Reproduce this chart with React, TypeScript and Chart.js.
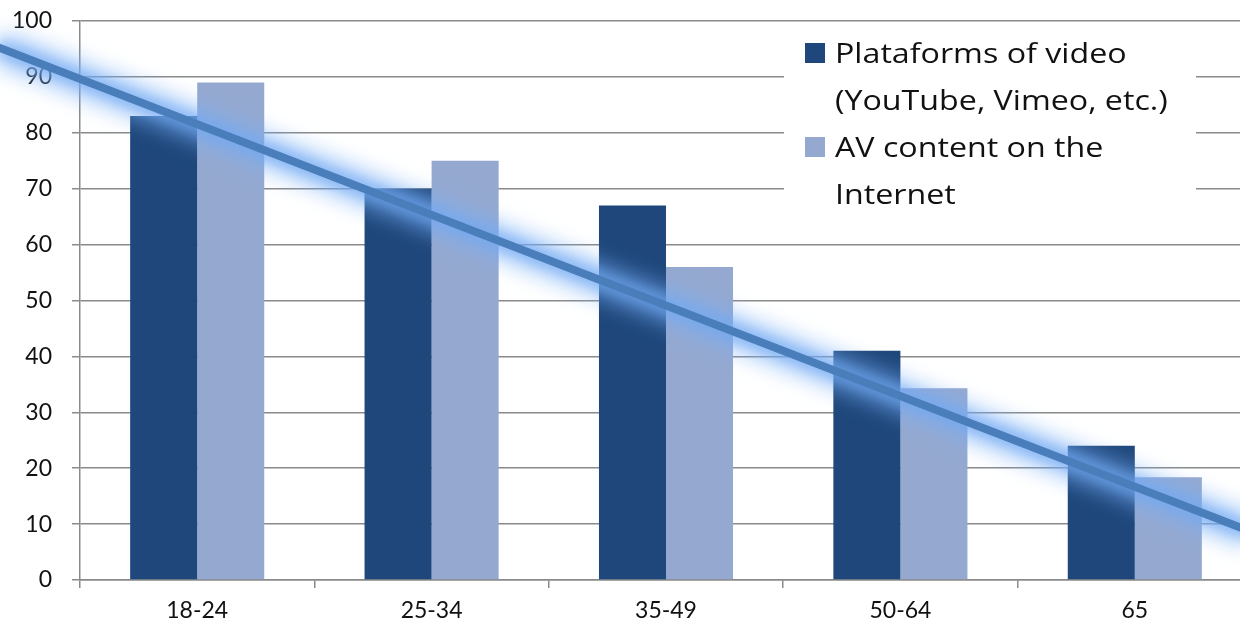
import React, { useEffect, useRef } from "react";
import { Chart, registerables } from "chart.js";

Chart.register(...registerables);

const categories = ["18-24", "25-34", "35-49", "50-64", "65"];
const platformLabel = "Plataforms of video (YouTube, Vimeo, etc.)";
const avLabel = "AV content on the Internet";
const platformValues = [83, 70, 67, 41, 24];
const avValues = [89, 75, 56, 34.3, 18.4];
const legendLines = [
  ["Plataforms of video", "(YouTube, Vimeo, etc.)"],
  ["AV content on the", "Internet"],
];
// linear trend line (category index, value)
const trendX = [-0.85, 4.5];
const trendY = [95.3, 8.6];
const yMin = 0;
const yMax = 100;
const yStep = 10;

const FONT = "Lato, 'Open Sans', sans-serif";
const LEGEND_FONT = "'Open Sans', Lato, sans-serif";
const GRID = "#8a8a8a";

const trendPlugin = {
  id: "trend",
  afterDatasetsDraw(chart: any) {
    const ctx = chart.ctx;
    const xs = chart.scales.x;
    const ys = chart.scales.y;
    const pts = trendX.map((v, i) => [xs.getPixelForValue(v), ys.getPixelForValue(trendY[i])]);
    const path = (dy: number) => {
      ctx.beginPath();
      pts.forEach(([px, py]: number[], i: number) => {
        if (i === 0) ctx.moveTo(px, py + dy);
        else ctx.lineTo(px, py + dy);
      });
    };
    ctx.save();
    ctx.lineCap = "butt";
    // soft glow: draw only the blurred shadow of a wide stroke
    const OFF = 5000;
    ctx.shadowOffsetX = 0;
    ctx.shadowOffsetY = OFF;
    ctx.strokeStyle = "#000";
    ctx.shadowColor = "rgba(120,175,245,0.75)";
    ctx.shadowBlur = 22;
    ctx.lineWidth = 30;
    path(-OFF);
    ctx.stroke();
    ctx.shadowColor = "rgba(110,165,240,0.4)";
    ctx.shadowBlur = 10;
    ctx.lineWidth = 18;
    path(-OFF);
    ctx.stroke();
    ctx.shadowColor = "transparent";
    ctx.shadowBlur = 0;
    ctx.shadowOffsetY = 0;
    ctx.strokeStyle = "#4a7ebb";
    ctx.lineWidth = 8;
    path(0);
    ctx.stroke();
    ctx.restore();
  },
};

const legendPlugin = {
  id: "boxLegend",
  beforeDatasetsDraw(chart: any) {
    const ctx = chart.ctx;
    const area = chart.chartArea;
    ctx.save();
    ctx.fillStyle = "#ffffff";
    ctx.fillRect(784, area.top + 3, 412, 192);
    ctx.textBaseline = "alphabetic";
    ctx.textAlign = "left";
    let baseline = 63;
    legendLines.forEach((lines, i) => {
      const ds = chart.data.datasets[i];
      ctx.fillStyle = ds.backgroundColor;
      ctx.fillRect(805, baseline - 20, 20, 20);
      ctx.fillStyle = "#111111";
      lines.forEach((line) => {
        ctx.save();
        ctx.translate(835, baseline);
        ctx.scale(1.15, 1);
        ctx.font = `28px ${LEGEND_FONT}`;
        ctx.fillText(line, 0, 0);
        ctx.restore();
        baseline += 47;
      });
    });
    ctx.restore();
  },
};

export default function App() {
  const ref = useRef<HTMLCanvasElement | null>(null);
  useEffect(() => {
    if (!ref.current) return;
    const chart = new Chart(ref.current, {
      type: "bar",
      data: {
        labels: categories,
        datasets: [
          {
            label: platformLabel,
            data: platformValues,
            backgroundColor: "#1f477b",
            categoryPercentage: 0.572,
            barPercentage: 1,
          },
          {
            label: avLabel,
            data: avValues,
            backgroundColor: "#95a9d0",
            categoryPercentage: 0.572,
            barPercentage: 1,
          },
        ],
      },
      options: {
        animation: false,
        responsive: false,
        maintainAspectRatio: false,
        layout: { padding: { top: 21, right: 0, left: 0, bottom: 0 } },
        plugins: { legend: { display: false }, tooltip: { enabled: false } },
        scales: {
          x: {
            type: "category",
            grid: {
              drawOnChartArea: false,
              color: GRID,
              lineWidth: 1.5,
              tickLength: 8,
              offset: true,
            },
            border: { color: GRID, width: 1.5 },
            ticks: { color: "#111", font: { family: FONT, size: 23 }, padding: 9 },
            afterFit(scale: any) {
              scale.height = 46;
              scale.paddingLeft = 0;
              scale.paddingRight = 0;
            },
          },
          y: {
            min: yMin,
            max: yMax,
            ticks: {
              stepSize: yStep,
              color: "#111",
              font: { family: FONT, size: 23 },
              padding: 20,
            },
            grid: { color: GRID, lineWidth: 1.5, tickLength: 8 },
            border: { color: GRID, width: 1.5 },
            afterFit(scale: any) {
              scale.width = 80;
              scale.paddingTop = 0;
              scale.paddingBottom = 0;
            },
          },
        },
      },
      plugins: [legendPlugin, trendPlugin],
    } as any);
    return () => chart.destroy();
  }, []);
  return (
    <div
      style={{
        position: "fixed",
        left: 0,
        top: 0,
        width: 1240,
        height: 626,
        overflow: "hidden",
        background: "#fff",
      }}
    >
      <canvas ref={ref} width={1252} height={626} style={{ width: 1252, height: 626, display: "block" }} />
    </div>
  );
}
